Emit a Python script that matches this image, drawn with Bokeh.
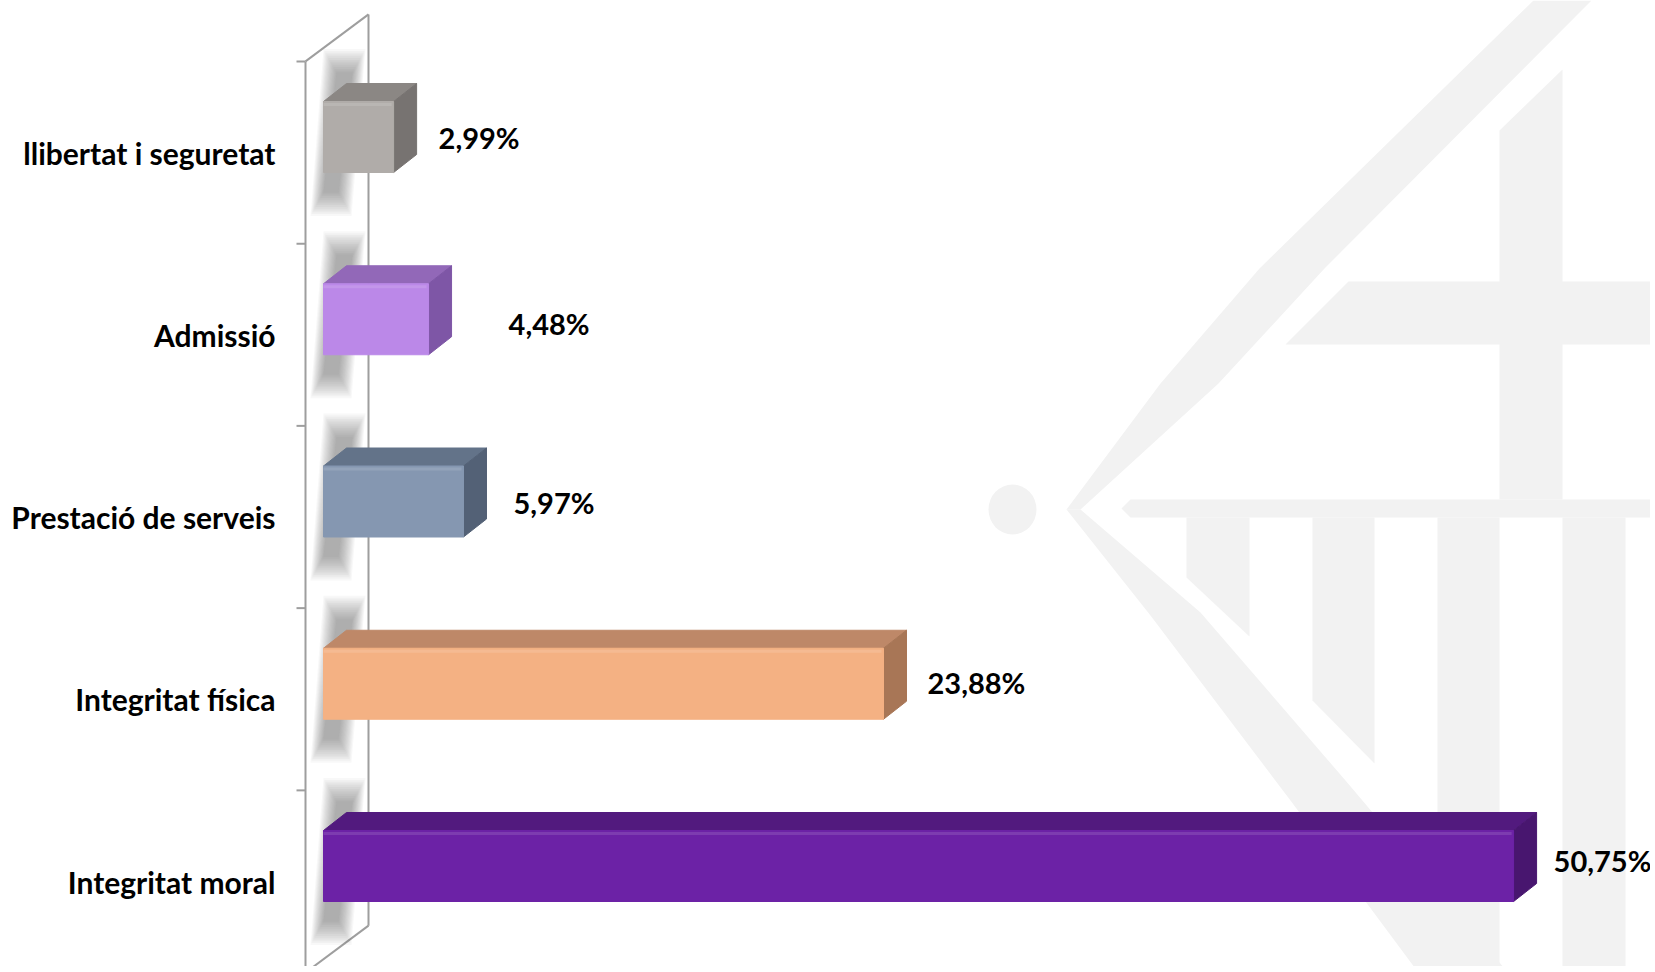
import numpy as np
from bokeh.plotting import figure
from bokeh.models import Range1d
from bokeh.embed import file_html
from bokeh.resources import INLINE
from bokeh.core.properties import value

# ---------------- data ----------------
categories = ["llibertat i seguretat", "Admissió", "Prestació de serveis",
              "Integritat física", "Integritat moral"]
percentages = [2.99, 4.48, 5.97, 23.88, 50.75]
value_labels = ["2,99%", "4,48%", "5,97%", "23,88%", "50,75%"]

# ---------------- styles ----------------
front_colors = ["#B0ACA9", "#BB88E8", "#8597B1", "#F4B183", "#6C22A6"]
top_colors = ["#8B8784", "#9268B8", "#637389", "#BE8868", "#521A7E"]
side_colors = ["#777371", "#7E56A6", "#536176", "#A87656", "#48166F"]
label_dx_px = [22, 57, 27, 21, 17]
label_dy_px = [-15, -11, -15, -17, -21]

W, H = 1650, 966
PXU = 23.45      # pixels per percentage unit
PXC = 182.25     # pixels per category
X0 = 323.0       # canvas px of value 0
Y0 = 152.0       # canvas px of first category centre


def ux(px):
    return px / PXU


def uy(px):
    return px / PXC


def rx(ref_px):
    return (ref_px - X0) / PXU


def ry(ref_py):
    return (ref_py - Y0) / PXC


p = figure(width=W, height=H,
           x_range=Range1d(-X0 / PXU, (W - X0) / PXU),
           y_range=Range1d((H - Y0) / PXC, -Y0 / PXC),
           x_axis_type=None, y_axis_type=None,
           output_backend="svg", toolbar_location=None,
           min_border=0, outline_line_color=None,
           background_fill_color="white", border_fill_color="white")

# ---------------- faint background emblem ----------------
emblem = [
    [(1533, 0), (1259, 268), (1160, 383), (1066, 509), (1080, 509), (1218, 383), (1324, 268), (1591, 0)],
    [(1066, 509), (1150, 615), (1290, 800), (1420, 975), (1510, 975), (1345, 780), (1200, 612), (1080, 509)],
    [(1348, 281), (1660, 281), (1660, 344), (1285, 344)],
    [(1562, 69), (1562, 499), (1499, 499), (1499, 130)],
    [(1130, 499), (1660, 499), (1660, 517), (1130, 517), (1121, 508)],
    [(1186, 517), (1249, 517), (1249, 636), (1186, 577)],
    [(1312, 517), (1374, 517), (1374, 763), (1312, 700)],
    [(1437, 517), (1499, 517), (1499, 975), (1437, 975)],
    [(1562, 517), (1625, 517), (1625, 975), (1562, 975)],
]
p.patches(xs=[[rx(a) for a, b in poly] for poly in emblem],
          ys=[[ry(b) for a, b in poly] for poly in emblem],
          fill_color="#F2F2F2", line_color=None)
p.ellipse(x=[rx(1012)], y=[ry(509)], width=ux(48), height=uy(50),
          fill_color="#F2F2F2", line_color=None)

# ---------------- wall (value-axis plane) ----------------
n = len(categories)
y_top, y_bot = -0.5, n - 0.5
wall_x = rx(305)
dwx, dwy = ux(63), uy(47)
p.multi_line(xs=[[wall_x, wall_x], [wall_x + dwx, wall_x + dwx],
                 [wall_x, wall_x + dwx], [wall_x, wall_x + dwx]],
             ys=[[y_top, y_bot], [y_top - dwy, y_bot - dwy],
                 [y_top, y_top - dwy], [y_bot, y_bot - dwy]],
             line_color="#9E9E9E", line_width=2)
bounds = list(np.arange(n + 1) - 0.5)
p.segment(x0=[wall_x - ux(9)] * len(bounds), x1=[wall_x] * len(bounds),
          y0=bounds, y1=bounds, line_color="#9E9E9E", line_width=2)

# ---------------- soft shadows on the wall ----------------
for k in range(n):
    for i in range(14):
        e = 1.0 * (13 - i)
        ev = 1.8 * (13 - i)
        xs = [rx(336 - e), rx(352 + e), rx(338 + e), rx(323 - e)]
        ys = [k + uy(-80 - ev), k + uy(-80 - ev), k + uy(40 + ev), k + uy(40 + ev)]
        p.patch(xs, ys, fill_color="#505050", fill_alpha=0.04, line_color=None)

# ---------------- 3D bars ----------------
dx, dy = ux(23), uy(18)
for k, v in enumerate(percentages):
    yt = k + uy(-51)
    yb = k + uy(20)
    # top face
    p.patch([0, v, v + dx, dx], [yt, yt, yt - dy, yt - dy],
            fill_color=top_colors[k], line_color=top_colors[k], line_width=1)
    # side face
    p.patch([v, v + dx, v + dx, v], [yt, yt - dy, yb - dy, yb],
            fill_color=side_colors[k], line_color=side_colors[k], line_width=1)
    # front face
    p.quad(left=[0], right=[v], top=[yt], bottom=[yb],
           fill_color=front_colors[k], line_color=front_colors[k], line_width=1)
    # soft highlight along the top of the front face
    p.segment(x0=[0], x1=[v - ux(2)], y0=[yt + uy(3)], y1=[yt + uy(3)],
              line_color="white", line_alpha=0.12, line_width=3)

# ---------------- texts ----------------
p.text(x=[rx(275)] * n, y=list(range(n)), text=categories,
       text_align="right", text_baseline="middle",
       text_font=value("Lato"), text_font_style="bold",
       text_font_size="30px", text_color="#000000")

lx = [v + dx + ux(d) for v, d in zip(percentages, label_dx_px)]
ly = [k + uy(d) for k, d in enumerate(label_dy_px)]
p.text(x=lx, y=ly, text=value_labels,
       text_align="left", text_baseline="middle",
       text_font=value("Lato"), text_font_style="bold",
       text_font_size="29px", text_color="#000000")

open("out.html", "w").write(file_html(p, INLINE, "chart"))
